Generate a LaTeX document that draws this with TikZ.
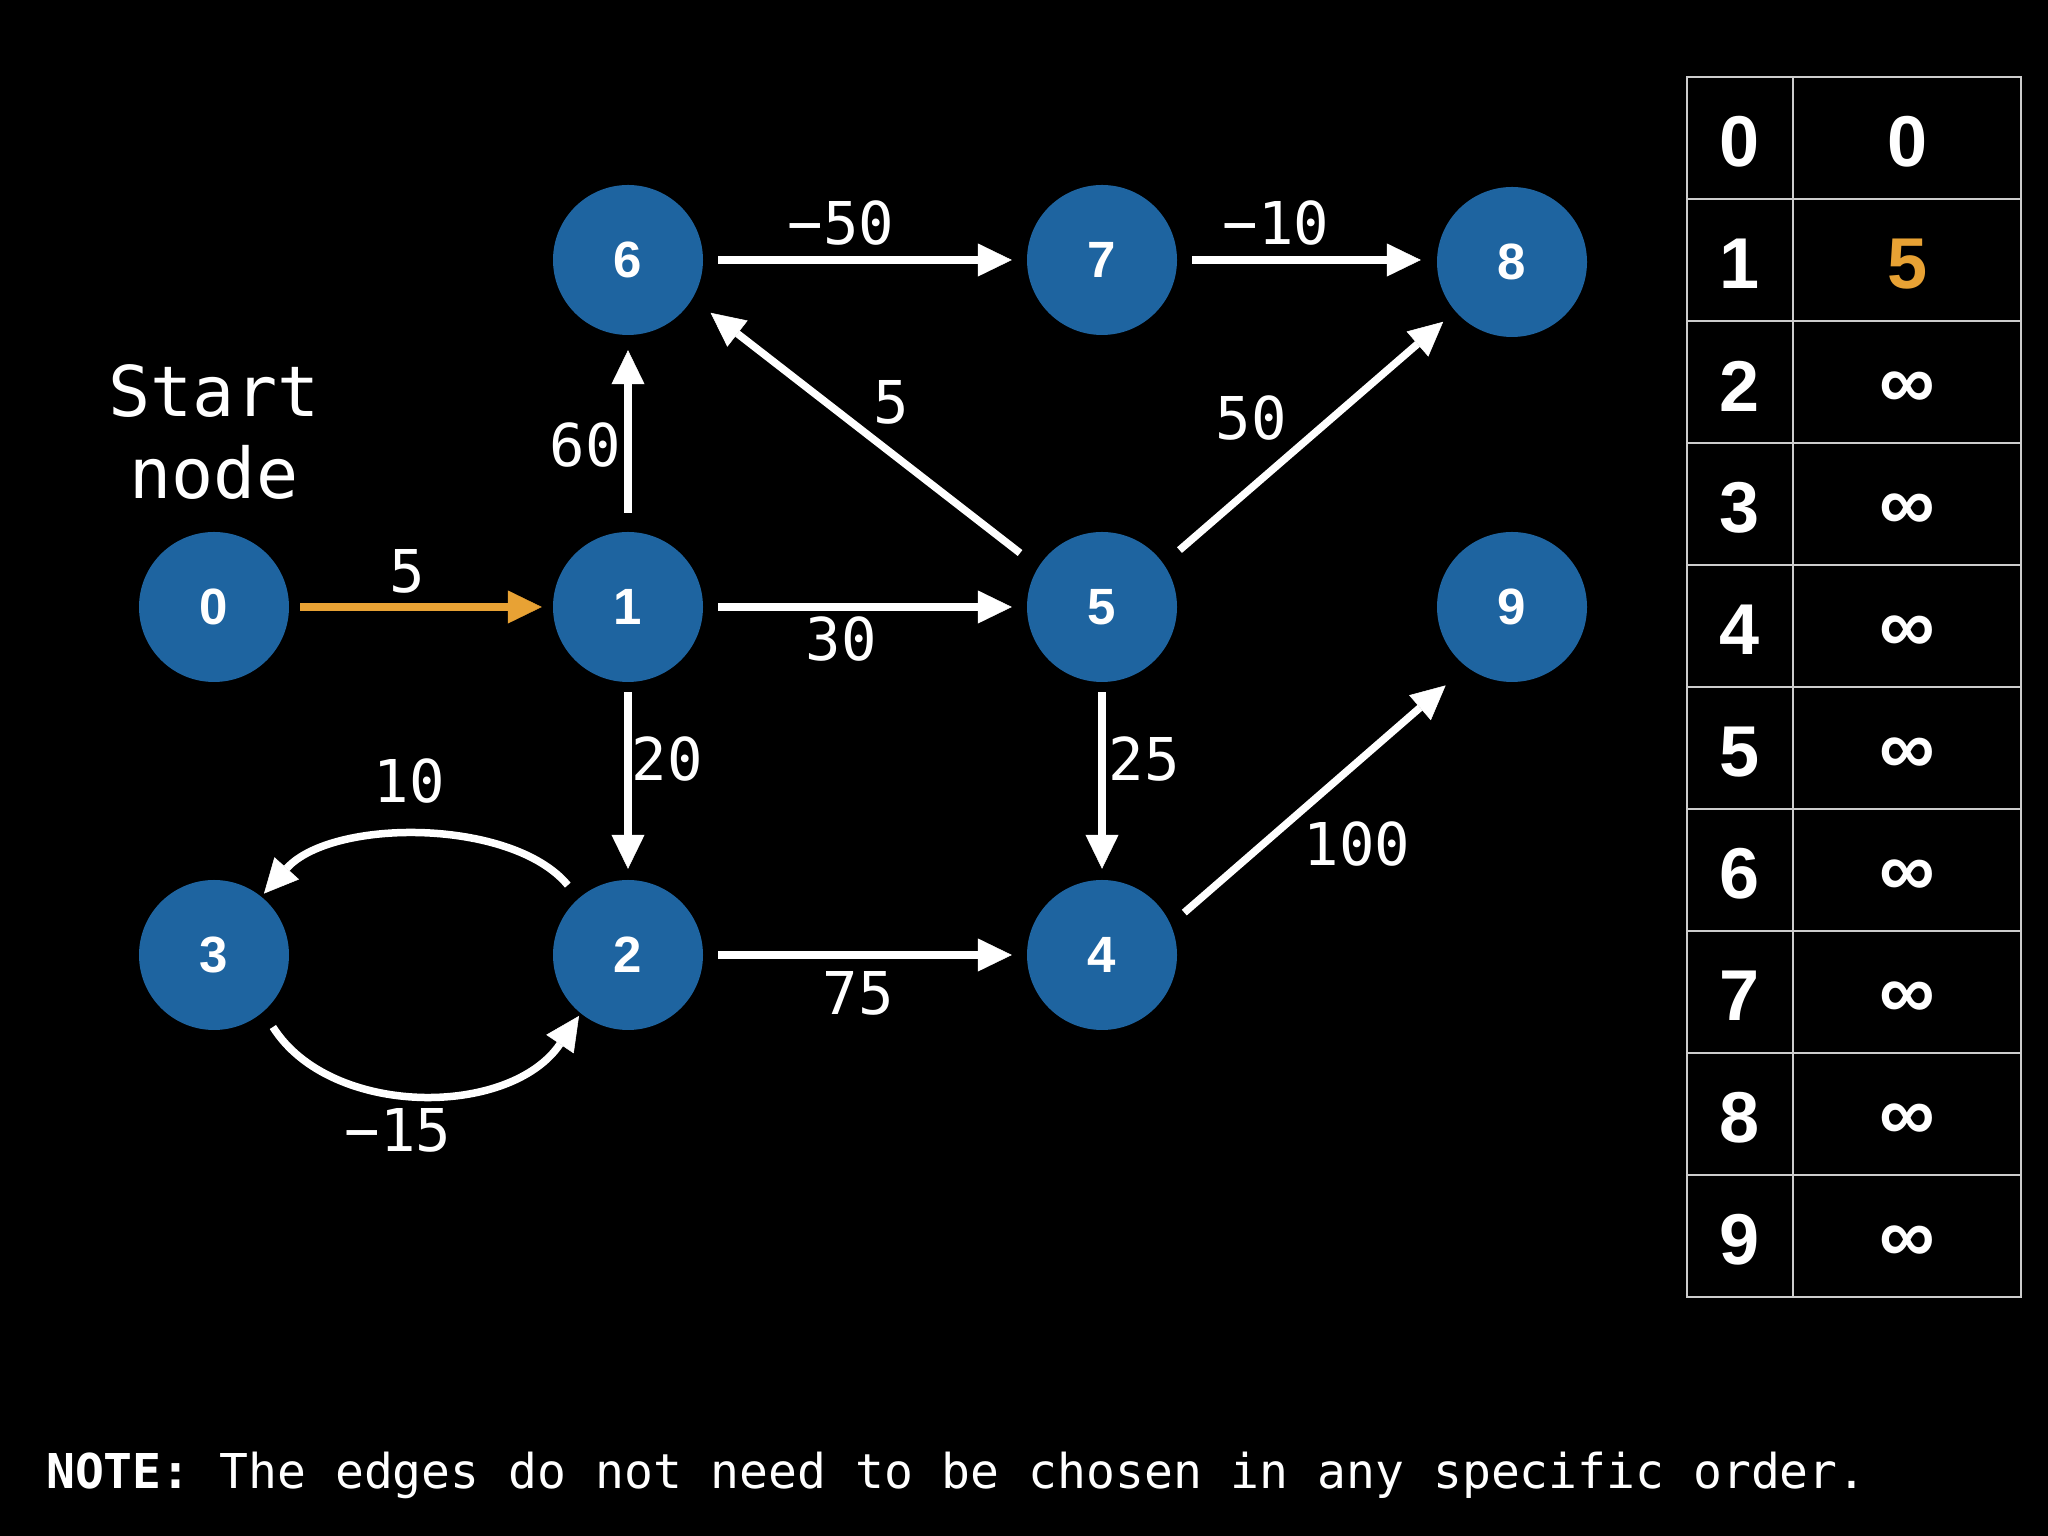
\documentclass[tikz,border=0pt]{standalone}
\usepackage{fontspec}
\setmainfont{Liberation Sans}
\setmonofont{DejaVu Sans Mono}
\usetikzlibrary{arrows.meta}
\definecolor{nodeblue}{RGB}{30,100,160}
\definecolor{hiorange}{RGB}{232,162,52}
\definecolor{gridgray}{RGB}{205,205,205}
\begin{document}
\begin{tikzpicture}[x=1pt,y=1pt,
  vert/.style={circle, fill=nodeblue, minimum size=150pt, inner sep=0pt, text=white,
    font=\fontsize{51}{51}\selectfont\bfseries},
  edge/.style={draw=white, line width=7.5pt,
    -{Triangle[length=34pt,width=33pt,line width=0.5pt]}},
  hiedge/.style={edge, draw=hiorange, fill=hiorange},
  wlabel/.style={text=white, inner sep=0pt, font=\ttfamily\fontsize{59}{59}\selectfont},
  cell/.style={text=white, inner sep=0pt, font=\fontsize{72}{72}\selectfont\bfseries},
  infcell/.style={cell, font=\fontsize{78}{78}\selectfont\bfseries},
  grid/.style={draw=gridgray, line width=2.5pt},
]
\fill[black] (0,0) rectangle (2048,1536);
\useasboundingbox (0,0) rectangle (2048,1536);

% vertices
\node[vert] (n0) at (214,929) {0};
\node[vert] (n1) at (628,929) {1};
\node[vert] (n5) at (1102,929) {5};
\node[vert] (n9) at (1512,929) {9};
\node[vert] (n6) at (628,1276) {6};
\node[vert] (n7) at (1102,1276) {7};
\node[vert] (n8) at (1512,1274) {8};
\node[vert] (n3) at (214,581) {3};
\node[vert] (n2) at (628,581) {2};
\node[vert] (n4) at (1102,581) {4};

\node[text=white, align=center, inner sep=0pt,
  font=\ttfamily\fontsize{70}{82}\selectfont] (start) at (214,1104) {Start\\node};

% edges
\draw[hiedge, shorten <=11pt, shorten >=11pt] (n0.east) -- (n1.west);
\draw[edge, shorten <=19pt, shorten >=15pt] (n1.north) -- (n6.south);
\draw[edge, shorten <=15pt, shorten >=15pt] (n6.east) -- (n7.west);
\draw[edge, shorten <=15pt, shorten >=16pt] (n7.east) -- (n7.east -| n8.west);
\draw[edge, shorten <=15pt, shorten >=15pt] (n1.east) -- (n5.west);
\draw[edge, shorten <=10pt, shorten >=11pt] (n1.south) -- (n2.north);
\draw[edge, shorten <=10pt, shorten >=11pt] (n5.south) -- (n4.north);
\draw[edge, shorten <=15pt, shorten >=15pt] (n2.east) -- (n4.west);
\draw[edge, shorten <=23pt, shorten >=23pt] (n5.148) -- (n6.329);
\draw[edge, shorten <=21pt, shorten >=16pt] (n5.35) -- (n8.221);
\draw[edge, shorten <=18pt, shorten >=28pt] (n4.24) -- (n9.233);
\draw[edge, shorten <=17pt, shorten >=4pt] (n2.131) .. controls (512,718) and (332,718) .. (n3.51);
\draw[edge, shorten <=18pt, shorten >=3pt] (n3.311) .. controls (330,418) and (510,418) .. (n2.231);

% edge weights
\node[wlabel] (w01) at (407,965) {5};
\node[wlabel] (w67) at (841,1313) {−50};
\node[wlabel] (w78) at (1276,1313) {−10};
\node[wlabel] (w56) at (891,1134) {5};
\node[wlabel] (w58) at (1251,1118) {50};
\node[wlabel] (w16) at (585,1091) {60};
\node[wlabel] (w15) at (841,897) {30};
\node[wlabel] (w12) at (667,777) {20};
\node[wlabel] (w54) at (1144,777) {25};
\node[wlabel] (w23) at (409,755) {10};
\node[wlabel] (w49) at (1357,692) {100};
\node[wlabel] (w24) at (858,543) {75};
\node[wlabel] (w32) at (398,406) {−15};

% distance table
\draw[grid] (1687,1459) rectangle (2021,239);
\draw[grid] (1793,1459) -- (1793,239);
\foreach \k in {1,...,9} {
  \draw[grid] (1687,{1459-122*\k}) -- (2021,{1459-122*\k});
}
\foreach \i in {0,...,9} {
  \node[cell] (k\i) at (1740,{1394-122*\i}) {\i};
}
\node[cell] (d0) at (1907,1394) {0};
\node[cell, text=hiorange] (d1) at (1907,1272) {5};
\foreach \i in {2,...,9} {
  \node[infcell] (d\i) at (1907,{1390-122*\i}) {∞};
}

% note
\node[anchor=base west, text=white, inner sep=0pt,
  font=\ttfamily\fontsize{48}{48}\selectfont] (note) at (46,47)
  {\textbf{NOTE:} The edges do not need to be chosen in any specific order.};
\end{tikzpicture}
\end{document}
